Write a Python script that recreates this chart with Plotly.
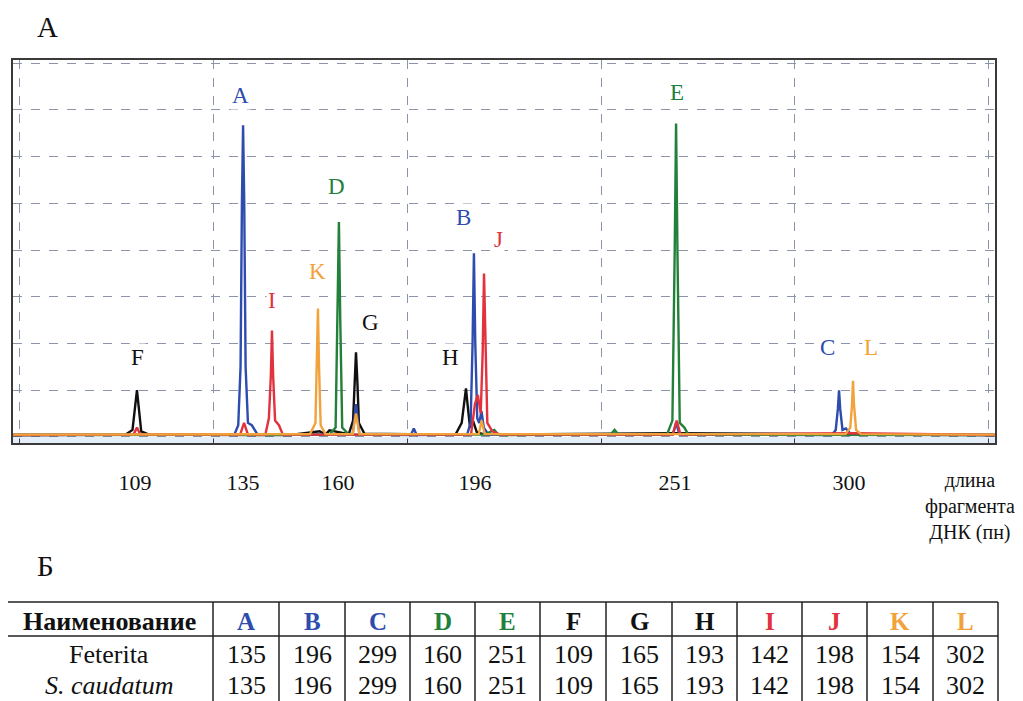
import plotly.graph_objects as go

# ---------------- data ----------------
# electropherogram channels (x in run units, y in relative fluorescence units)
black_x = [-0.03, 0.55, 0.585, 0.598, 0.608, 0.618, 0.63, 0.67, 1.40, 1.55, 1.58, 1.60, 1.70, 1.722, 1.731, 1.737, 1.744, 1.752, 1.78, 2.25, 2.282, 2.296, 2.304, 2.312, 2.325, 2.34, 2.36, 2.40, 3.38, 4.22, 4.30, 5.03]
black_y = [0.04, 0.05, 0.15, 0.6, 1.0, 0.6, 0.12, 0.05, 0.04, 0.12, 0.05, 0.14, 0.06, 0.35, 1.2, 1.81, 1.2, 0.3, 0.07, 0.05, 0.3, 0.8, 1.04, 0.7, 0.2, 0.35, 0.1, 0.05, 0.08, 0.06, 0.05, 0.04]

blue_x = [-0.03, 1.11, 1.13, 1.142, 1.149, 1.155, 1.161, 1.168, 1.18, 1.2, 1.23, 1.72, 1.737, 1.755, 2.02, 2.035, 2.05, 2.31, 2.328, 2.338, 2.345, 2.352, 2.362, 2.372, 2.384, 2.396, 2.42, 3.37, 3.387, 3.405, 4.19, 4.21, 4.221, 4.227, 4.233, 4.245, 4.262, 4.29, 5.03]
blue_y = [0.04, 0.05, 0.25, 1.5, 5.0, 6.67, 5.0, 1.5, 0.3, 0.25, 0.05, 0.05, 0.7, 0.05, 0.04, 0.18, 0.04, 0.05, 0.3, 2.0, 3.93, 2.0, 0.4, 0.3, 0.55, 0.2, 0.05, 0.05, 0.3, 0.05, 0.04, 0.15, 0.6, 1.0, 0.6, 0.15, 0.18, 0.05, 0.04]

green_x = [-0.03, 1.60, 1.632, 1.642, 1.649, 1.656, 1.666, 1.70, 2.40, 2.45, 2.47, 2.49, 3.05, 3.07, 3.09, 3.34, 3.368, 3.38, 3.387, 3.394, 3.406, 3.43, 3.45, 5.03]
green_y = [0.04, 0.05, 0.2, 2.5, 4.6, 2.5, 0.2, 0.05, 0.05, 0.15, 0.05, 0.04, 0.05, 0.15, 0.05, 0.05, 0.35, 4.0, 6.71, 4.0, 0.3, 0.2, 0.05, 0.04]

red_x = [-0.03, 0.59, 0.608, 0.625, 1.14, 1.16, 1.18, 1.27, 1.288, 1.298, 1.304, 1.31, 1.32, 1.34, 1.36, 2.33, 2.35, 2.365, 2.38, 2.39, 2.397, 2.404, 2.414, 2.44, 2.48, 3.37, 3.39, 3.41, 4.3, 5.03]
red_y = [0.04, 0.05, 0.2, 0.05, 0.05, 0.3, 0.05, 0.05, 0.4, 1.3, 2.28, 1.3, 0.35, 0.25, 0.05, 0.05, 0.7, 0.9, 0.5, 1.8, 3.5, 1.8, 0.3, 0.12, 0.05, 0.05, 0.35, 0.05, 0.08, 0.04]

orange_x = [-0.03, 1.50, 1.528, 1.536, 1.541, 1.546, 1.555, 1.58, 1.72, 1.737, 1.755, 2.37, 2.385, 2.40, 4.26, 4.285, 4.294, 4.299, 4.304, 4.315, 4.34, 5.03]
orange_y = [0.05, 0.06, 0.3, 1.6, 2.75, 1.6, 0.25, 0.06, 0.06, 0.5, 0.06, 0.06, 0.35, 0.06, 0.06, 0.2, 0.7, 1.2, 0.7, 0.15, 0.06, 0.05]

# peak labels
peak_names = ["A", "E", "D", "B", "J", "K", "I", "G", "F", "H", "C", "L"]
peak_lx = [1.144, 3.392, 1.639, 2.289, 2.474, 1.541, 1.304, 1.814, 0.613, 2.222, 4.170, 4.392]
peak_ly = [7.32, 7.38, 5.37, 4.70, 4.23, 3.55, 2.93, 2.46, 1.69, 1.71, 1.92, 1.92]

# x tick labels: fragment sizes (bp) placed under their peaks
tick_vals = [0.598, 1.155, 1.644, 2.351, 3.381, 4.278]
tick_text = ["109", "135", "160", "196", "251", "300"]

# table
table_cols = ["A", "B", "C", "D", "E", "F", "G", "H", "I", "J", "K", "L"]
row_names = ["Feterita", "<i>S. caudatum</i>"]
feterita = [135, 196, 299, 160, 251, 109, 165, 193, 142, 198, 154, 302]
caudatum = [135, 196, 299, 160, 251, 109, 165, 193, 142, 198, 154, 302]

# ---------------- styles ----------------
BLUE = "#2E4BAE"
GREEN = "#23803A"
RED = "#E2323E"
ORANGE = "#F2A23A"
BLACK = "#111111"
letter_color = {"A": BLUE, "B": BLUE, "C": BLUE, "D": GREEN, "E": GREEN,
                "F": BLACK, "G": BLACK, "H": BLACK, "I": RED, "J": RED,
                "K": ORANGE, "L": ORANGE}
SERIF = "Liberation Serif"
# the page body has an 8px margin; the figure fills the rest of the 1023x701 window
OFF = 8
W, H = 1023 - OFF, 701 - OFF


def px(x):
    return (x - OFF) / W


def py(y):
    return 1 - (y - OFF) / H


fig = go.Figure()
for xs, ys, col in [(black_x, black_y, BLACK), (blue_x, blue_y, BLUE),
                    (green_x, green_y, GREEN), (red_x, red_y, RED),
                    (orange_x, orange_y, ORANGE)]:
    fig.add_trace(go.Scatter(x=xs, y=ys, mode="lines",
                             line=dict(color=col, width=2.4),
                             showlegend=False, hoverinfo="skip"))

xr = [-0.031, 5.031]
yr = [-0.13, 8.07]
grid_col = "#8C94AA"

fig.update_layout(
    width=W, height=H,
    margin=dict(l=0, r=0, t=0, b=0),
    paper_bgcolor="white", plot_bgcolor="white",
    showlegend=False,
    font=dict(family=SERIF),
    xaxis=dict(domain=[px(13), px(995)], range=xr, tickvals=tick_vals,
               ticktext=tick_text, showgrid=False, zeroline=False,
               ticks="", ticklabelstandoff=19,
               tickfont=dict(family=SERIF, size=22, color="#111"),
               showline=True, linecolor="#3A3A3A", linewidth=2, mirror=True),
    xaxis2=dict(overlaying="x", anchor="y", range=xr, dtick=1, tick0=0,
                showgrid=True, griddash="dash", gridcolor=grid_col, gridwidth=1,
                showticklabels=False, ticks="inside", ticklen=4,
                tickcolor="#3A3A3A", zeroline=False, side="bottom"),
    yaxis=dict(domain=[py(443), py(60)], range=yr, dtick=1, tick0=0,
               showgrid=True, griddash="dash", gridcolor=grid_col, gridwidth=1,
               showticklabels=False, ticks="", zeroline=False,
               showline=True, linecolor="#3A3A3A", linewidth=2, mirror=True),
)

# invisible trace to attach the grid axis
fig.add_trace(go.Scatter(x=xr, y=[0, 0], xaxis="x2", yaxis="y", mode="lines",
                         line=dict(width=0), showlegend=False, hoverinfo="skip"))

shapes = []
# light band under baseline
shapes.append(dict(type="rect", xref="x", yref="y", x0=xr[0], x1=xr[1],
                   y0=yr[0], y1=0, fillcolor="#E4EEF8", line=dict(width=0),
                   layer="below"))

annotations = []
for name, lx, ly in zip(peak_names, peak_lx, peak_ly):
    annotations.append(dict(x=lx, y=ly, xref="x", yref="y", text=name,
                            xanchor="center", yanchor="middle",
                            showarrow=False, bgcolor="white",
                            font=dict(family=SERIF, size=23, color=letter_color[name])))


def paper_text(x, y, text, size, color="#111", **kw):
    d = dict(x=px(x), y=py(y), xref="paper", yref="paper", text=text,
             showarrow=False, xanchor="center", yanchor="middle",
             font=dict(family=SERIF, size=size, color=color))
    d.update(kw)
    return d


# panel letters
annotations.append(paper_text(47, 27, "А", 29))
annotations.append(paper_text(45, 566, "Б", 29))
# axis title
annotations.append(paper_text(970, 506, "длина<br>фрагмента<br>ДНК (пн)", 20, align="center"))

# ---------------- table ----------------
col_edges = [5, 213, 279, 345, 410, 475, 540, 606, 672, 737, 802, 867, 933, 998]
t_top, t_head, t_bot = 602, 636, 701
lc = dict(color="#222", width=1.5)
shapes.append(dict(type="line", xref="paper", yref="paper", x0=px(col_edges[0]),
                   x1=px(col_edges[-1]), y0=py(t_top), y1=py(t_top), line=lc))
shapes.append(dict(type="line", xref="paper", yref="paper", x0=px(col_edges[0]),
                   x1=px(col_edges[-1]), y0=py(t_head), y1=py(t_head), line=lc))
for ce in col_edges:
    shapes.append(dict(type="line", xref="paper", yref="paper", x0=px(ce), x1=px(ce),
                       y0=py(t_top), y1=py(t_bot), line=lc))

centers = [(col_edges[i] + col_edges[i + 1]) / 2 for i in range(len(col_edges) - 1)]
annotations.append(paper_text(centers[0], 621, "<b>Наименование</b>", 26))
for c, name in zip(centers[1:], table_cols):
    annotations.append(paper_text(c, 621, "<b>%s</b>" % name, 25, letter_color[name]))
for rname, vals, yy in [(row_names[0], feterita, 654), (row_names[1], caudatum, 685)]:
    annotations.append(paper_text(centers[0], yy, rname, 26))
    for c, v in zip(centers[1:], vals):
        annotations.append(paper_text(c, yy, str(v), 26))

fig.update_layout(shapes=shapes, annotations=annotations)
fig.write_html("out.html")
